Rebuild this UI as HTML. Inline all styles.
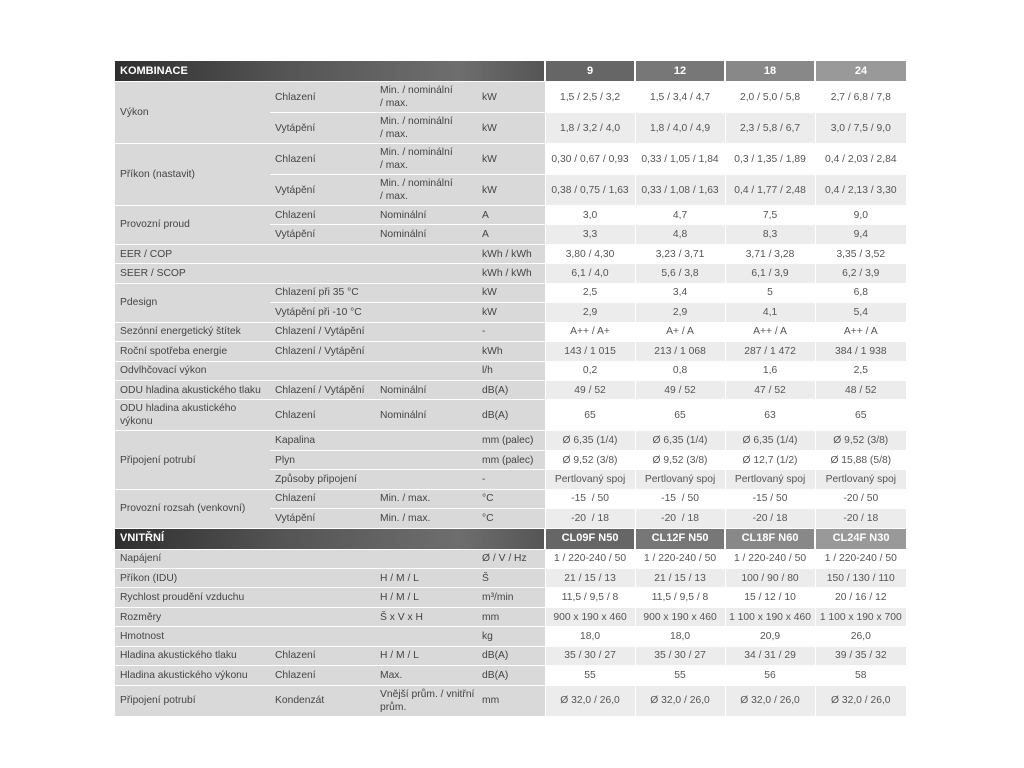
<!DOCTYPE html>
<html><head><meta charset="utf-8"><style>
body{margin:0;background:#fff;width:1024px;height:768px;overflow:hidden}
table{position:absolute;left:115px;top:61px;border-collapse:collapse;table-layout:fixed;width:791px;font-family:"Liberation Sans",sans-serif;font-size:10.3px;color:#444}
td{padding:0 0 0 5px;border-bottom:1px solid #fff;line-height:13px;overflow:hidden;white-space:nowrap}
td.l{background:#d9d9d9}
td.v{text-align:center;padding:0;border-left:1px solid #fff;color:#555}
tr.w td.v{background:#fff}
tr.g td.v{background:#ececec}
td.wrap{white-space:normal}
tr.h td{color:#fff;font-weight:bold;font-size:11px;height:20px;padding:0 0 0 5px}
tr.h td.t{background:linear-gradient(90deg,#2f2f2f,#555 40%,#6e6e6e 80%,#555)}
tr.h td.c{text-align:center;padding:0;border-left:2px solid #fff}
.c1{background:#666}.c2{background:#777}.c3{background:#888}.c4{background:#999}
tr.s td{height:18.45px}tr.d td{height:30px}
</style></head><body>
<table>
<colgroup><col style="width:155px"><col style="width:105px"><col style="width:102px"><col style="width:68px"><col style="width:90px"><col style="width:90px"><col style="width:90px"><col style="width:91px"></colgroup>
<tr class="h"><td class="t" colspan="4">KOMBINACE</td><td class="c c1">9</td><td class="c c2">12</td><td class="c c3">18</td><td class="c c4">24</td></tr>
<tr class="w d"><td class="l" rowspan="2">Výkon</td><td class="l">Chlazení</td><td class="l">Min. / nominální<br>/ max.</td><td class="l">kW</td><td class="v">1,5 / 2,5 / 3,2</td><td class="v">1,5 / 3,4 / 4,7</td><td class="v">2,0 / 5,0 / 5,8</td><td class="v">2,7 / 6,8 / 7,8</td></tr>
<tr class="g d"><td class="l">Vytápění</td><td class="l">Min. / nominální<br>/ max.</td><td class="l">kW</td><td class="v">1,8 / 3,2 / 4,0</td><td class="v">1,8 / 4,0 / 4,9</td><td class="v">2,3 / 5,8 / 6,7</td><td class="v">3,0 / 7,5 / 9,0</td></tr>
<tr class="w d"><td class="l" rowspan="2">Příkon (nastavit)</td><td class="l">Chlazení</td><td class="l">Min. / nominální<br>/ max.</td><td class="l">kW</td><td class="v">0,30 / 0,67 / 0,93</td><td class="v">0,33 / 1,05 / 1,84</td><td class="v">0,3 / 1,35 / 1,89</td><td class="v">0,4 / 2,03 / 2,84</td></tr>
<tr class="g d"><td class="l">Vytápění</td><td class="l">Min. / nominální<br>/ max.</td><td class="l">kW</td><td class="v">0,38 / 0,75 / 1,63</td><td class="v">0,33 / 1,08 / 1,63</td><td class="v">0,4 / 1,77 / 2,48</td><td class="v">0,4 / 2,13 / 3,30</td></tr>
<tr class="w s"><td class="l" rowspan="2">Provozní proud</td><td class="l">Chlazení</td><td class="l">Nominální</td><td class="l">A</td><td class="v">3,0</td><td class="v">4,7</td><td class="v">7,5</td><td class="v">9,0</td></tr>
<tr class="g s"><td class="l">Vytápění</td><td class="l">Nominální</td><td class="l">A</td><td class="v">3,3</td><td class="v">4,8</td><td class="v">8,3</td><td class="v">9,4</td></tr>
<tr class="w s"><td class="l">EER / COP</td><td class="l"></td><td class="l"></td><td class="l">kWh / kWh</td><td class="v">3,80 / 4,30</td><td class="v">3,23 / 3,71</td><td class="v">3,71 / 3,28</td><td class="v">3,35 / 3,52</td></tr>
<tr class="g s"><td class="l">SEER / SCOP</td><td class="l"></td><td class="l"></td><td class="l">kWh / kWh</td><td class="v">6,1 / 4,0</td><td class="v">5,6 / 3,8</td><td class="v">6,1 / 3,9</td><td class="v">6,2 / 3,9</td></tr>
<tr class="w s"><td class="l" rowspan="2">Pdesign</td><td class="l" colspan="2">Chlazení při 35 °C</td><td class="l">kW</td><td class="v">2,5</td><td class="v">3,4</td><td class="v">5</td><td class="v">6,8</td></tr>
<tr class="g s"><td class="l" colspan="2">Vytápění při -10 °C</td><td class="l">kW</td><td class="v">2,9</td><td class="v">2,9</td><td class="v">4,1</td><td class="v">5,4</td></tr>
<tr class="w s"><td class="l">Sezónní energetický štítek</td><td class="l" colspan="2">Chlazení / Vytápění</td><td class="l">-</td><td class="v">A++ / A+</td><td class="v">A+ / A</td><td class="v">A++ / A</td><td class="v">A++ / A</td></tr>
<tr class="g s"><td class="l">Roční spotřeba energie</td><td class="l" colspan="2">Chlazení / Vytápění</td><td class="l">kWh</td><td class="v">143 / 1 015</td><td class="v">213 / 1 068</td><td class="v">287 / 1 472</td><td class="v">384 / 1 938</td></tr>
<tr class="w s"><td class="l">Odvlhčovací výkon</td><td class="l"></td><td class="l"></td><td class="l">l/h</td><td class="v">0,2</td><td class="v">0,8</td><td class="v">1,6</td><td class="v">2,5</td></tr>
<tr class="g s"><td class="l">ODU hladina akustického tlaku</td><td class="l">Chlazení / Vytápění</td><td class="l">Nominální</td><td class="l">dB(A)</td><td class="v">49 / 52</td><td class="v">49 / 52</td><td class="v">47 / 52</td><td class="v">48 / 52</td></tr>
<tr class="w d"><td class="l">ODU hladina akustického<br>výkonu</td><td class="l">Chlazení</td><td class="l">Nominální</td><td class="l">dB(A)</td><td class="v">65</td><td class="v">65</td><td class="v">63</td><td class="v">65</td></tr>
<tr class="g s"><td class="l" rowspan="3">Připojení potrubí</td><td class="l">Kapalina</td><td class="l"></td><td class="l">mm (palec)</td><td class="v">Ø 6,35 (1/4)</td><td class="v">Ø 6,35 (1/4)</td><td class="v">Ø 6,35 (1/4)</td><td class="v">Ø 9,52 (3/8)</td></tr>
<tr class="w s"><td class="l">Plyn</td><td class="l"></td><td class="l">mm (palec)</td><td class="v">Ø 9,52 (3/8)</td><td class="v">Ø 9,52 (3/8)</td><td class="v">Ø 12,7 (1/2)</td><td class="v">Ø 15,88 (5/8)</td></tr>
<tr class="g s"><td class="l" colspan="2">Způsoby připojení</td><td class="l">-</td><td class="v">Pertlovaný spoj</td><td class="v">Pertlovaný spoj</td><td class="v">Pertlovaný spoj</td><td class="v">Pertlovaný spoj</td></tr>
<tr class="w s"><td class="l" rowspan="2">Provozní rozsah (venkovní)</td><td class="l">Chlazení</td><td class="l">Min. / max.</td><td class="l">°C</td><td class="v">-15 &nbsp;/ 50</td><td class="v">-15 &nbsp;/ 50</td><td class="v">-15 / 50</td><td class="v">-20 / 50</td></tr>
<tr class="g s"><td class="l">Vytápění</td><td class="l">Min. / max.</td><td class="l">°C</td><td class="v">-20 &nbsp;/ 18</td><td class="v">-20 &nbsp;/ 18</td><td class="v">-20 / 18</td><td class="v">-20 / 18</td></tr>
<tr class="h"><td class="t" colspan="4">VNITŘNÍ</td><td class="c c1">CL09F N50</td><td class="c c2">CL12F N50</td><td class="c c3">CL18F N60</td><td class="c c4">CL24F N30</td></tr>
<tr class="w s"><td class="l">Napájení</td><td class="l"></td><td class="l"></td><td class="l">Ø / V / Hz</td><td class="v">1 / 220-240 / 50</td><td class="v">1 / 220-240 / 50</td><td class="v">1 / 220-240 / 50</td><td class="v">1 / 220-240 / 50</td></tr>
<tr class="g s"><td class="l">Příkon (IDU)</td><td class="l"></td><td class="l">H / M / L</td><td class="l">Š</td><td class="v">21 / 15 / 13</td><td class="v">21 / 15 / 13</td><td class="v">100 / 90 / 80</td><td class="v">150 / 130 / 110</td></tr>
<tr class="w s"><td class="l" colspan="2">Rychlost proudění vzduchu</td><td class="l">H / M / L</td><td class="l">m³/min</td><td class="v">11,5 / 9,5 / 8</td><td class="v">11,5 / 9,5 / 8</td><td class="v">15 / 12 / 10</td><td class="v">20 / 16 / 12</td></tr>
<tr class="g s"><td class="l">Rozměry</td><td class="l"></td><td class="l">Š x V x H</td><td class="l">mm</td><td class="v">900 x 190 x 460</td><td class="v">900 x 190 x 460</td><td class="v">1 100 x 190 x 460</td><td class="v">1 100 x 190 x 700</td></tr>
<tr class="w s"><td class="l">Hmotnost</td><td class="l"></td><td class="l"></td><td class="l">kg</td><td class="v">18,0</td><td class="v">18,0</td><td class="v">20,9</td><td class="v">26,0</td></tr>
<tr class="g s"><td class="l">Hladina akustického tlaku</td><td class="l">Chlazení</td><td class="l">H / M / L</td><td class="l">dB(A)</td><td class="v">35 / 30 / 27</td><td class="v">35 / 30 / 27</td><td class="v">34 / 31 / 29</td><td class="v">39 / 35 / 32</td></tr>
<tr class="w s"><td class="l">Hladina akustického výkonu</td><td class="l">Chlazení</td><td class="l">Max.</td><td class="l">dB(A)</td><td class="v">55</td><td class="v">55</td><td class="v">56</td><td class="v">58</td></tr>
<tr class="g d"><td class="l">Připojení potrubí</td><td class="l">Kondenzát</td><td class="l">Vnější prům. / vnitřní<br>prům.</td><td class="l">mm</td><td class="v">Ø 32,0 / 26,0</td><td class="v">Ø 32,0 / 26,0</td><td class="v">Ø 32,0 / 26,0</td><td class="v">Ø 32,0 / 26,0</td></tr>
</table>
</body></html>
